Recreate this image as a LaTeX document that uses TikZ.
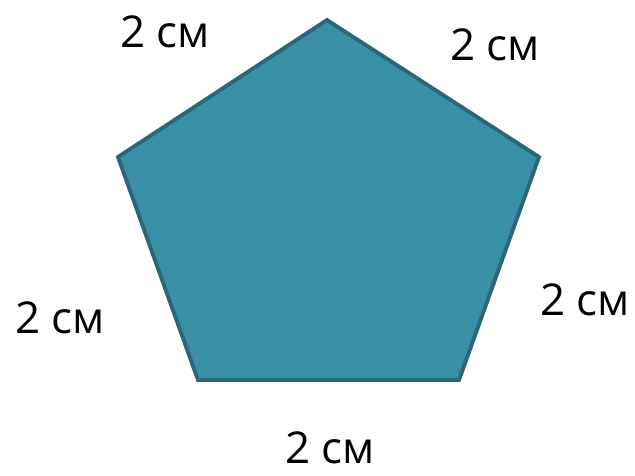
\documentclass[tikz,border=0pt]{standalone}
\usepackage{fontspec}
\setmainfont{Open Sans}
\usepackage{xcolor}
\usepackage{tikz}
\usetikzlibrary{positioning}

\definecolor{pentfill}{HTML}{3A90A6}
\definecolor{pentline}{HTML}{2A6878}

\begin{document}
\begin{tikzpicture}[x=0.02cm,y=-0.02cm,
    side/.style={font=\fontsize{25}{30}\selectfont, inner sep=0pt},
    pent/.style={fill=pentfill, draw=pentline, line width=2.2pt, line join=miter}]
       \useasboundingbox (0,0) rectangle (635,476);
       \coordinate (top) at (327,20);
       \coordinate (rt) at (539,157);
       \coordinate (br) at (459,380);
       \coordinate (bl) at (198,380);
       \coordinate (lt) at (118,157);

       \filldraw[pent] (top) -- (rt) -- (br) -- (bl) -- (lt) -- cycle;

       \node[side] (s1) at (165,32) {2 см};
       \node[side] (s2) at (495,45) {2 см};
       \node[side] (s3) at (585,300) {2 см};
       \node[side] (s4) at (60,318) {2 см};
       \node[side] (s5) at (330,448) {2 см};
    \end{tikzpicture}
\end{document}
